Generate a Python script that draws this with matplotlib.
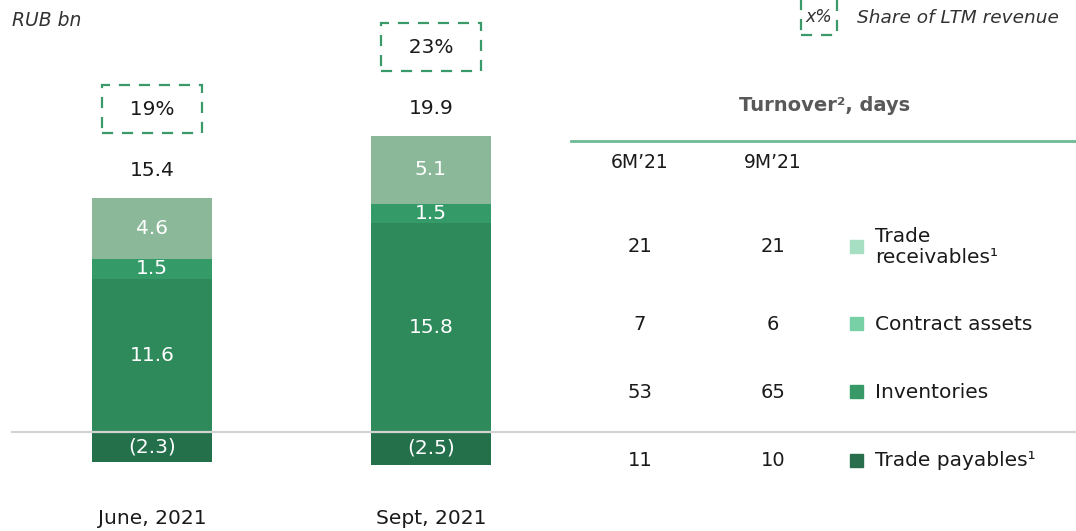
import matplotlib
matplotlib.use("Agg")
import matplotlib.pyplot as plt
from matplotlib.patches import Rectangle

plt.rcParams['font.family'] = ['DejaVu Sans']

# ---- data ----
periods = ["June, 2021", "Sept, 2021"]
inventories = [11.6, 15.8]
contract_assets = [1.5, 1.5]
trade_receivables = [4.6, 5.1]
trade_payables = [-2.3, -2.5]
totals = [15.4, 19.9]
ltm_share = ["19%", "23%"]

turnover_cols = ["6M\u201921", "9M\u201921"]
turnover_items = ["Trade\nreceivables\u00b9", "Contract assets", "Inventories", "Trade payables\u00b9"]
turnover_6m = [21, 7, 53, 11]
turnover_9m = [21, 6, 65, 10]

# ---- styles ----
W, H = 1076, 531
bar_cols = {"inv": "#2e8a5a", "ca": "#339a68", "tr": "#8cb89a", "tp": "#24704b"}
legend_cols = ["#a6dfc2", "#78d1a6", "#379966", "#286e4c"]
green_dash = "#3a9a6a"
txt = "#1a1a1a"

fig = plt.figure(figsize=(W / 100, H / 100), dpi=100)

def fx(x):
    return x / W

def fy(y):
    return 1 - y / H

# bar axes spanning whole figure; baseline at pixel row 432
s = 13.2  # px per unit
ax = fig.add_axes([0, 0, 1, 1])
ax.set_ylim(-(H - 432) / s, 432 / s)
xpu = 279.0
ax.set_xlim(-152 / xpu, (W - 152) / xpu)
ax.axis("off")
bw = 120 / xpu
x = list(range(len(periods)))

ax.bar(x, inventories, bw, color=bar_cols["inv"], zorder=2)
ax.bar(x, contract_assets, bw, bottom=inventories, color=bar_cols["ca"], zorder=2)
bot2 = [a + b for a, b in zip(inventories, contract_assets)]
ax.bar(x, trade_receivables, bw, bottom=bot2, color=bar_cols["tr"], zorder=2)
ax.bar(x, trade_payables, bw, color=bar_cols["tp"], zorder=2)
ax.axhline(0, xmin=12 / W, xmax=1, color="#d3d3d3", lw=1.6, zorder=3)

fs_num = 14.5
for i in x:
    ax.text(i, inventories[i] / 2, f"{inventories[i]:.1f}", ha="center", va="center",
            color="white", fontsize=fs_num, zorder=4)
    ax.text(i, inventories[i] + contract_assets[i] / 2, f"{contract_assets[i]:.1f}",
            ha="center", va="center", color="white", fontsize=fs_num, zorder=4)
    ax.text(i, bot2[i] + trade_receivables[i] / 2, f"{trade_receivables[i]:.1f}",
            ha="center", va="center", color="white", fontsize=fs_num, zorder=4)
    ax.text(i, trade_payables[i] / 2, f"({abs(trade_payables[i]):.1f})", ha="center",
            va="center", color="white", fontsize=fs_num, zorder=4)
    top = bot2[i] + trade_receivables[i]
    ax.annotate(f"{totals[i]:.1f}", (i, top), xytext=(0, 20), textcoords="offset points",
                ha="center", va="center", fontsize=fs_num, color=txt)
    ax.annotate("  " + ltm_share[i] + "  ", (i, top), xytext=(0, 64),
                textcoords="offset points",
                ha="center", va="center", fontsize=fs_num, color=txt,
                bbox=dict(boxstyle="square,pad=0.72", fc="none", ec=green_dash,
                          ls=(0, (5, 4)), lw=1.6))
    ax.text(i, -(519 - 432) / s, periods[i], ha="center", va="center",
            fontsize=14.5, color=txt)

# RUB bn
fig.text(fx(12), fy(20), "RUB bn", ha="left", va="center", style="italic",
         fontsize=13.5, color="#333333")

# legend top right
fig.patches.append(Rectangle((fx(801), fy(35)), fx(36), 40 / H, transform=fig.transFigure,
                             fill=False, ec=green_dash, ls=(0, (5, 4)), lw=1.6))
fig.text(fx(819), fy(17), "x%", ha="center", va="center", style="italic",
         fontsize=12.5, color="#333333")
fig.text(fx(857), fy(18), "Share of LTM revenue", ha="left", va="center",
         style="italic", fontsize=13.3, color="#333333")

# turnover table
fig.text(fx(825), fy(105), "Turnover\u00b2, days", ha="center", va="center",
         fontweight="bold", fontsize=14, color="#595959")
fig.add_artist(plt.Line2D([fx(571), 1], [fy(141), fy(141)], color="#6fba96", lw=2,
                          transform=fig.transFigure))
col_x = [640, 773]
for cx, lab in zip(col_x, turnover_cols):
    fig.text(fx(cx), fy(163), lab, ha="center", va="center", fontsize=13.5, color=txt)

row_y = [247, 324, 392, 461]
for j, ry in enumerate(row_y):
    fig.text(fx(col_x[0]), fy(ry), str(turnover_6m[j]), ha="center", va="center",
             fontsize=14, color=txt)
    fig.text(fx(col_x[1]), fy(ry), str(turnover_9m[j]), ha="center", va="center",
             fontsize=14, color=txt)
    fig.patches.append(Rectangle((fx(850), fy(ry + 6)), fx(13), 13 / H,
                                 transform=fig.transFigure, color=legend_cols[j]))
    fig.text(fx(875), fy(ry), turnover_items[j], ha="left", va="center",
             fontsize=14.5, color=txt, linespacing=1.15)

fig.savefig("out.png", dpi=100)
